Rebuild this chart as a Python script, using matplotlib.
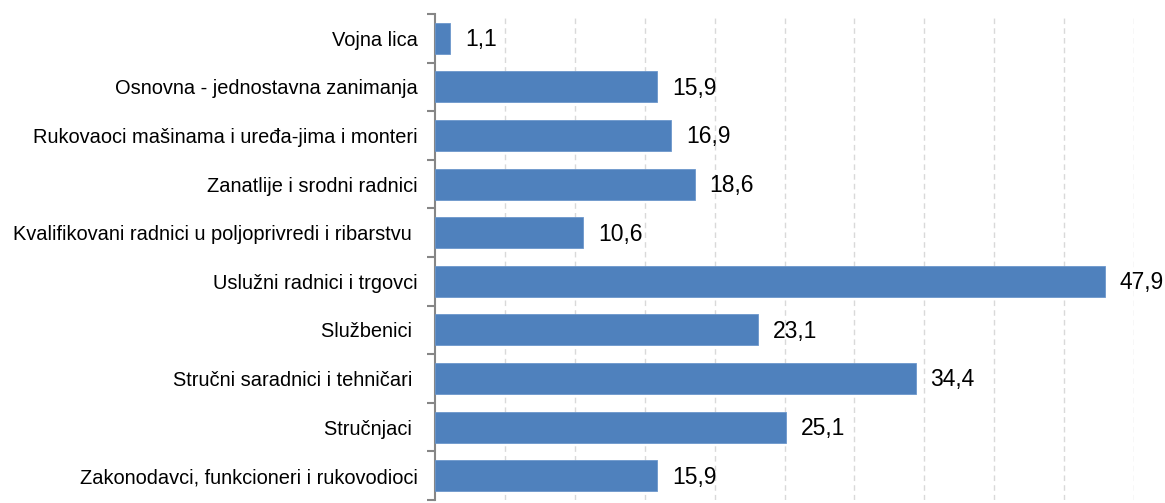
import matplotlib
matplotlib.use("Agg")
import matplotlib.pyplot as plt
import numpy as np

categories = [
    "Vojna lica",
    "Osnovna - jednostavna zanimanja",
    "Rukovaoci mašinama i uređa-jima i monteri",
    "Zanatlije i srodni radnici",
    "Kvalifikovani radnici u poljoprivredi i ribarstvu ",
    "Uslužni radnici i trgovci",
    "Službenici ",
    "Stručni saradnici i tehničari ",
    "Stručnjaci ",
    "Zakonodavci, funkcioneri i rukovodioci",
]
values = [1.1, 15.9, 16.9, 18.6, 10.6, 47.9, 23.1, 34.4, 25.1, 15.9]
value_labels = ["1,1", "15,9", "16,9", "18,6", "10,6", "47,9", "23,1", "34,4", "25,1", "15,9"]

plt.rcParams['font.family'] = ['Liberation Sans', 'DejaVu Sans']

fig = plt.figure(figsize=(11.65, 5.03), dpi=100)
ax = fig.add_axes([435/1165, 3/503, (1134-435)/1165, (500-14)/503])

n = len(categories)
y = np.arange(n)
ax.barh(y, values, height=0.64, color="#4F81BD", edgecolor="#6C97CC", linewidth=0.6, zorder=3)

for yi, v, lab in zip(y, values, value_labels):
    ax.annotate(lab, (v, yi), xytext=(10.5, -1), textcoords="offset points",
                va="center", ha="left", fontsize=16.5, color="black")

ax.set_xlim(0, 50)
ax.set_ylim(n - 0.5, -0.5)
ax.set_xticks(np.arange(5, 51, 5))
ax.tick_params(axis="x", length=0, labelbottom=False)
ax.xaxis.grid(True, linestyle=(0, (4, 3)), color="#d9d9d9", linewidth=1, zorder=0)

ax.set_yticks(y)
ax.set_yticklabels(categories, fontsize=14.4)
ax.tick_params(axis="y", which="major", length=0, pad=12.5)
ax.set_yticks(np.arange(-0.5, n, 1), minor=True)
ax.tick_params(axis="y", which="minor", length=6, width=1.5, color="#868686", direction="out")

for s in ["top", "right", "bottom"]:
    ax.spines[s].set_visible(False)
ax.spines["left"].set_color("#868686")
ax.spines["left"].set_linewidth(1.5)

fig.savefig("out.png", dpi=100)
